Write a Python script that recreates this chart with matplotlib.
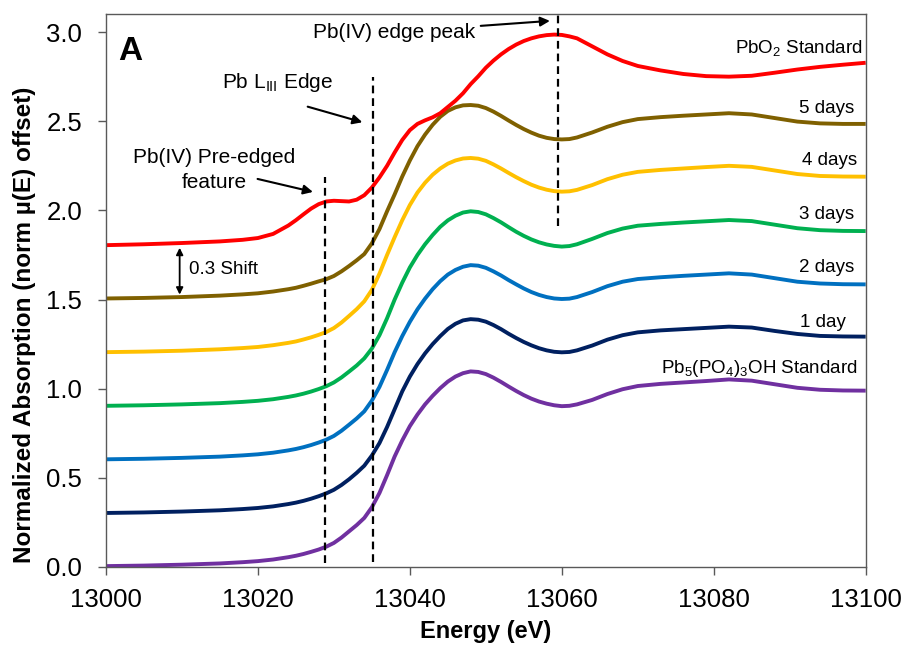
import matplotlib
matplotlib.use("Agg")
import matplotlib.pyplot as plt

plt.rcParams['font.family'] = ['Liberation Sans', 'DejaVu Sans']
plt.rcParams['mathtext.fontset'] = 'custom'
plt.rcParams['mathtext.rm'] = 'Liberation Sans'
plt.rcParams['mathtext.it'] = 'Liberation Sans:italic'
plt.rcParams['mathtext.bf'] = 'Liberation Sans:bold'

# energy grid (eV)
energy = [13000, 13005, 13010, 13015, 13018, 13020, 13022, 13024, 13025, 13026,
          13027, 13028, 13029, 13030, 13031, 13032, 13033, 13034, 13035, 13036,
          13037, 13038, 13039, 13040, 13041, 13042, 13043, 13044, 13045, 13046,
          13047, 13048, 13049, 13050, 13051, 13052, 13053, 13054, 13055, 13056,
          13057, 13058, 13059, 13060, 13061, 13062, 13064, 13066, 13068, 13070,
          13073, 13076, 13079, 13082, 13085, 13088, 13091, 13094, 13097, 13100]

# normalized absorption, before the offset
pb5_std = [0.005, 0.008, 0.013, 0.020, 0.027, 0.033, 0.042, 0.055, 0.063, 0.073,
           0.085, 0.098, 0.114, 0.135, 0.165, 0.200, 0.235, 0.275, 0.335, 0.415,
           0.515, 0.620, 0.710, 0.790, 0.855, 0.912, 0.960, 1.003, 1.040, 1.068,
           1.087, 1.097, 1.094, 1.082, 1.062, 1.038, 1.012, 0.987, 0.964, 0.944,
           0.928, 0.916, 0.907, 0.902, 0.904, 0.912, 0.937, 0.970, 0.997, 1.015,
           1.027, 1.035, 1.043, 1.052, 1.045, 1.025, 1.005, 0.994, 0.990, 0.989]
day1 = [0.003, 0.006, 0.011, 0.018, 0.025, 0.031, 0.040, 0.053, 0.061, 0.071,
        0.083, 0.097, 0.113, 0.133, 0.160, 0.192, 0.228, 0.268, 0.325, 0.395,
        0.485, 0.585, 0.685, 0.768, 0.838, 0.898, 0.950, 0.995, 1.035, 1.064,
        1.083, 1.090, 1.087, 1.076, 1.057, 1.034, 1.008, 0.984, 0.962, 0.943,
        0.927, 0.915, 0.907, 0.904, 0.906, 0.915, 0.942, 0.975, 1.000, 1.016,
        1.027, 1.034, 1.041, 1.048, 1.043, 1.024, 1.007, 0.996, 0.993, 0.992]
day2 = [0.004, 0.007, 0.012, 0.019, 0.026, 0.032, 0.041, 0.054, 0.062, 0.072,
        0.084, 0.098, 0.114, 0.135, 0.164, 0.198, 0.233, 0.273, 0.333, 0.410,
        0.505, 0.605, 0.695, 0.775, 0.845, 0.905, 0.958, 1.003, 1.040, 1.066,
        1.084, 1.093, 1.090, 1.078, 1.058, 1.035, 1.009, 0.985, 0.962, 0.942,
        0.926, 0.914, 0.906, 0.903, 0.905, 0.914, 0.942, 0.975, 1.000, 1.015,
        1.025, 1.033, 1.040, 1.047, 1.040, 1.020, 1.000, 0.990, 0.986, 0.985]
day3 = [0.004, 0.007, 0.012, 0.019, 0.026, 0.032, 0.041, 0.054, 0.062, 0.072,
        0.084, 0.098, 0.114, 0.135, 0.163, 0.196, 0.230, 0.270, 0.325, 0.400,
        0.495, 0.600, 0.695, 0.780, 0.850, 0.910, 0.962, 1.008, 1.044, 1.070,
        1.088, 1.095, 1.091, 1.078, 1.057, 1.033, 1.006, 0.980, 0.957, 0.937,
        0.921, 0.909, 0.901, 0.897, 0.900, 0.910, 0.940, 0.973, 0.998, 1.014,
        1.024, 1.032, 1.039, 1.046, 1.040, 1.020, 1.000, 0.989, 0.985, 0.984]
day4 = [0.005, 0.008, 0.013, 0.021, 0.028, 0.034, 0.044, 0.057, 0.065, 0.076,
        0.088, 0.102, 0.118, 0.140, 0.171, 0.208, 0.246, 0.290, 0.354, 0.445,
        0.550, 0.650, 0.745, 0.830, 0.900, 0.955, 1.000, 1.035, 1.062, 1.080,
        1.091, 1.094, 1.090, 1.078, 1.058, 1.035, 1.010, 0.986, 0.964, 0.944,
        0.928, 0.916, 0.908, 0.905, 0.907, 0.915, 0.942, 0.975, 1.000, 1.016,
        1.027, 1.035, 1.043, 1.050, 1.044, 1.024, 1.004, 0.993, 0.990, 0.989]
day5 = [0.006, 0.009, 0.014, 0.022, 0.029, 0.035, 0.045, 0.058, 0.066, 0.077,
        0.089, 0.102, 0.114, 0.132, 0.158, 0.188, 0.220, 0.255, 0.315, 0.395,
        0.495, 0.590, 0.690, 0.780, 0.860, 0.925, 0.980, 1.025, 1.058, 1.078,
        1.089, 1.091, 1.087, 1.074, 1.054, 1.030, 1.004, 0.979, 0.956, 0.936,
        0.919, 0.907, 0.900, 0.898, 0.900, 0.909, 0.937, 0.969, 0.995, 1.012,
        1.023, 1.031, 1.038, 1.045, 1.038, 1.018, 0.998, 0.988, 0.985, 0.985]
pbo2_std = [0.005, 0.010, 0.017, 0.026, 0.035, 0.045, 0.068, 0.115, 0.145, 0.178,
            0.210, 0.235, 0.250, 0.254, 0.252, 0.250, 0.260, 0.285, 0.328, 0.385,
            0.450, 0.525, 0.595, 0.650, 0.685, 0.705, 0.722, 0.745, 0.780, 0.815,
            0.857, 0.908, 0.952, 1.000, 1.040, 1.075, 1.105, 1.130, 1.150, 1.165,
            1.176, 1.183, 1.186, 1.184, 1.176, 1.165, 1.120, 1.075, 1.038, 1.010,
            0.985, 0.965, 0.953, 0.950, 0.955, 0.972, 0.990, 1.005, 1.017, 1.028]

spectra = [pb5_std, day1, day2, day3, day4, day5, pbo2_std]
offsets = [0.0, 0.3, 0.6, 0.9, 1.2, 1.5, 1.8]
colors = ['#7030A0', '#002060', '#0070C0', '#00B050', '#FFC000', '#7F6000', '#FF0000']
labels = [r'Pb$_5$(PO$_4$)$_3$OH Standard', '1 day', '2 days', '3 days',
          '4 days', '5 days', r'PbO$_2$ Standard']
label_y = [1.114, 1.37, 1.679, 1.978, 2.279, 2.572, 2.909]
label_x = [13099.0, 13097.4, 13098.5, 13098.5, 13098.9, 13098.5, 13099.6]

fig = plt.figure(figsize=(9.08, 6.48), dpi=100)
ax = fig.add_axes([0.1167, 0.125, 0.8367, 0.853])

for vals, off, c in zip(spectra, offsets, colors):
    ax.plot(energy, [v + off for v in vals], color=c, lw=2.8,
            solid_joinstyle='round', solid_capstyle='butt')

for lab, lx, ly in zip(labels, label_x, label_y):
    ax.text(lx, ly, lab, ha='right', va='center', fontsize=13.5)

# dashed marker lines
ax.plot([13028.8, 13028.8], [0.02, 2.19], 'k--', lw=1.6, dashes=(3.5, 2.2))
ax.plot([13035.1, 13035.1], [0.03, 2.75], 'k--', lw=1.6, dashes=(3.5, 2.2))
ax.plot([13059.5, 13059.5], [1.91, 3.1], 'k--', lw=1.6, dashes=(3.5, 2.2))

arrow = dict(arrowstyle='-|>', color='black', lw=1.5, mutation_scale=14)
ax.annotate('Pb(IV) edge peak', xy=(13058.8, 3.064), xytext=(13048.6, 3.0),
            ha='right', va='center', fontsize=15, arrowprops=arrow)
ax.text(13022.6, 2.716, r'Pb L$_{\mathrm{III}}$ Edge', ha='center', va='center', fontsize=15)
ax.annotate('', xy=(13034.1, 2.49), xytext=(13026.2, 2.586), arrowprops=arrow)
ax.text(13014.3, 2.298, 'Pb(IV) Pre-edged', ha='center', va='center', fontsize=15)
ax.text(13014.3, 2.155, 'feature', ha='center', va='center', fontsize=15)
ax.annotate('', xy=(13027.6, 2.10), xytext=(13019.6, 2.18), arrowprops=arrow)
ax.annotate('', xy=(13009.7, 1.806), xytext=(13009.7, 1.512),
            arrowprops=dict(arrowstyle='<|-|>', color='black', lw=1.3, mutation_scale=10))
ax.text(13010.9, 1.666, '0.3 Shift', ha='left', va='center', fontsize=13.5)
ax.text(13001.6, 2.89, 'A', ha='left', va='center', fontsize=24, fontweight='bold')

ax.set_xlim(13000, 13100)
ax.set_ylim(0, 3.1)
ax.set_xticks([13000, 13020, 13040, 13060, 13080, 13100])
ax.set_yticks([0.0, 0.5, 1.0, 1.5, 2.0, 2.5, 3.0])
ax.set_yticklabels(['0.0', '0.5', '1.0', '1.5', '2.0', '2.5', '3.0'])
ax.tick_params(axis='both', direction='out', length=6, width=1, color='#595959', labelsize=18.5)
ax.tick_params(axis='x', pad=9)
ax.tick_params(axis='y', pad=11)
for s in ax.spines.values():
    s.set_color('#595959')
    s.set_linewidth(1)

ax.set_xlabel('Energy (eV)', fontsize=17, fontweight='bold', labelpad=6)
ax.set_ylabel('Normalized Absorption (norm µ(E) offset)', fontsize=17.5, fontweight='bold')
ax.yaxis.set_label_coords(-0.092, 0.4376)

fig.savefig('out.png', dpi=100)
